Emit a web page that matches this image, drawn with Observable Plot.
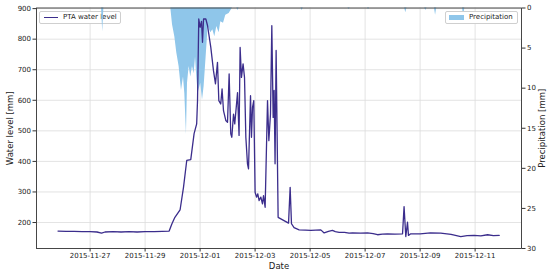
<!DOCTYPE html>
<html><head><meta charset="utf-8">
<script src="https://cdn.jsdelivr.net/npm/d3@7"></script>
<script src="https://cdn.jsdelivr.net/npm/@observablehq/plot@0.6"></script>
<style>
body{margin:0;background:#fff;font-family:"DejaVu Sans",sans-serif;}
#wrap{position:relative;width:550px;height:276px;overflow:hidden;}
#wrap>svg,#wrap>div{position:absolute;left:0;top:0;}
.leg{background:#fff;border:1px solid #cfcfcf;border-radius:2px;font-size:7px;color:#222;display:flex;align-items:center;box-sizing:border-box;height:13px;}
</style></head><body><div id="wrap"></div>
<script>
const levelTimes = ["2015-11-25T20:00","2015-11-26T03:00","2015-11-26T10:00","2015-11-26T17:00","2015-11-27T00:00","2015-11-27T06:00","2015-11-27T10:00","2015-11-27T13:00","2015-11-27T20:00","2015-11-28T03:00","2015-11-28T10:00","2015-11-28T17:00","2015-11-29T00:00","2015-11-29T08:00","2015-11-29T15:00","2015-11-29T21:00","2015-11-29T23:20","2015-11-30T02:00","2015-11-30T06:30","2015-11-30T09:30","2015-11-30T12:20","2015-11-30T15:50","2015-11-30T18:45","2015-11-30T21:00","2015-11-30T21:45","2015-11-30T22:50","2015-12-01T00:00","2015-12-01T01:15","2015-12-01T02:05","2015-12-01T03:00","2015-12-01T05:00","2015-12-01T06:30","2015-12-01T09:20","2015-12-01T11:40","2015-12-01T13:25","2015-12-01T15:10","2015-12-01T16:20","2015-12-01T18:00","2015-12-01T19:10","2015-12-01T20:25","2015-12-01T22:25","2015-12-01T23:55","2015-12-02T01:20","2015-12-02T02:45","2015-12-02T03:40","2015-12-02T05:10","2015-12-02T06:15","2015-12-02T08:40","2015-12-02T10:00","2015-12-02T10:55","2015-12-02T12:05","2015-12-02T13:30","2015-12-02T14:45","2015-12-02T15:55","2015-12-02T17:20","2015-12-02T18:15","2015-12-02T20:00","2015-12-02T20:50","2015-12-02T21:45","2015-12-02T22:50","2015-12-03T00:00","2015-12-03T01:15","2015-12-03T02:20","2015-12-03T03:30","2015-12-03T05:00","2015-12-03T06:25","2015-12-03T07:20","2015-12-03T08:45","2015-12-03T10:50","2015-12-03T12:00","2015-12-03T13:25","2015-12-03T14:35","2015-12-03T15:45","2015-12-03T16:35","2015-12-03T17:25","2015-12-03T18:20","2015-12-03T20:05","2015-12-04T05:10","2015-12-04T06:35","2015-12-04T07:45","2015-12-04T10:00","2015-12-04T14:25","2015-12-04T20:00","2015-12-05T00:35","2015-12-05T05:00","2015-12-05T09:20","2015-12-05T12:15","2015-12-05T16:00","2015-12-05T19:30","2015-12-05T22:00","2015-12-06T01:20","2015-12-06T06:00","2015-12-06T10:00","2015-12-06T13:00","2015-12-06T20:00","2015-12-07T02:05","2015-12-07T07:00","2015-12-07T10:50","2015-12-07T15:00","2015-12-07T19:30","2015-12-08T02:00","2015-12-08T08:40","2015-12-08T10:00","2015-12-08T11:30","2015-12-08T13:00","2015-12-08T13:50","2015-12-08T15:50","2015-12-09T00:00","2015-12-09T09:00","2015-12-09T18:00","2015-12-10T03:00","2015-12-10T11:30","2015-12-10T17:00","2015-12-10T23:10","2015-12-11T05:00","2015-12-11T10:50","2015-12-11T16:00","2015-12-11T21:00"];
const levelValues = [172,171,171,170,170,169,165,169,170,169,170,169,170,170,171,172,195,217,241,315,403,406,491,523,599,866,839,858,790,866,866,844,773,697,654,724,599,588,637,566,534,528,686,490,479,555,523,625,485,773,675,719,675,479,392,376,615,479,577,599,299,283,294,272,283,261,288,250,599,468,555,844,544,632,392,763,217,198,315,196,183,176,175,174,175,176,166,171,174,170,168,168,165,166,165,166,164,160,162,163,162,163,252,154,201,158,163,163,166,165,161,154,157,158,156,160,157,158];

const precipTimes = ["2015-11-27T10:00","2015-11-27T11:00","2015-11-27T12:00","2015-11-29T22:25","2015-11-29T23:55","2015-11-30T01:55","2015-11-30T03:40","2015-11-30T05:40","2015-11-30T07:45","2015-11-30T09:30","2015-11-30T10:40","2015-11-30T12:05","2015-11-30T13:00","2015-11-30T14:25","2015-11-30T15:50","2015-11-30T17:20","2015-11-30T18:45","2015-11-30T20:00","2015-11-30T21:05","2015-11-30T22:15","2015-12-01T00:35","2015-12-01T02:05","2015-12-01T03:30","2015-12-01T05:15","2015-12-01T07:00","2015-12-01T09:20","2015-12-01T11:05","2015-12-01T12:50","2015-12-01T14:35","2015-12-01T16:35","2015-12-01T18:05","2015-12-01T20:25","2015-12-01T22:25","2015-12-02T01:20","2015-12-02T04:15","2015-12-02T08:00","2015-12-02T09:00","2015-12-02T10:00","2015-12-04T16:00","2015-12-04T17:00","2015-12-04T18:00","2015-12-06T09:00","2015-12-06T10:00","2015-12-06T11:00","2015-12-07T02:00","2015-12-07T03:00","2015-12-07T04:00","2015-12-08T10:30","2015-12-08T11:30","2015-12-08T12:30","2015-12-09T04:00","2015-12-09T05:00","2015-12-09T06:00","2015-12-09T12:30","2015-12-09T13:30","2015-12-09T14:30","2015-12-10T13:00","2015-12-10T14:00","2015-12-10T15:00"];
const precipValues = [0,3.0,0,0,2.1,3.6,5.6,7.3,10.3,8.6,10.7,15.8,9.4,7.3,8.6,7.3,8.2,6.1,8.6,10.6,9.4,11.5,9.8,6.1,2.3,3.1,2.7,3.6,2.3,3.1,1.7,1.9,0.9,0.7,0,0,0.3,0,0,0.3,0,0,0.2,0,0,0.2,0,0,0.6,0,0,0.3,0,0,0.9,0,0,1.1,0];

const xTicks = ["2015-11-27","2015-11-29","2015-12-01","2015-12-03","2015-12-05","2015-12-07","2015-12-09","2015-12-11"];
const levelTicks = [200,300,400,500,600,700,800,900];
const precipTicks = [0,5,10,15,20,25,30];

const parse = s => new Date(s + (s.length > 10 ? "Z" : "T00:00Z"));
const level = levelTimes.map((t, i) => ({date: parse(t), value: levelValues[i]}));
const precip = precipTimes.map((t, i) => ({date: parse(t), value: precipValues[i]}));
const xTickDates = xTicks.map(parse);

const W = 550, H = 276, ML = 36, MR = 29, MT = 7.5, MB = 28;
const xDomain = [parse("2015-11-25T01:13"), parse("2015-12-12T16:29")];
const levelDomain = [115, 902];
const textColor = "#222";
const lineColor = "#3b2d8c";
const rainColor = "#8fc6ea";

function base(extra) {
  return Object.assign({
    width: W, height: H, marginLeft: ML, marginRight: MR, marginTop: MT, marginBottom: MB,
    style: {background: "transparent", fontFamily: "DejaVu Sans", fontSize: "7px", color: textColor, overflow: "visible"},
    x: {type: "utc", domain: xDomain, axis: null}
  }, extra);
}

const wrap = document.getElementById("wrap");

// Layer A: grid
const gridPlot = Plot.plot(base({
  y: {domain: levelDomain, axis: null},
  marks: [
    Plot.gridX(xTickDates, {stroke: "#dcdcdc", strokeOpacity: 1, strokeWidth: 0.8}),
    Plot.gridY(levelTicks, {stroke: "#dcdcdc", strokeOpacity: 1, strokeWidth: 0.8})
  ]
}));
wrap.appendChild(gridPlot);

// left legend (beneath precipitation, as in the reference)
const legL = document.createElement("div");
legL.className = "leg";
legL.style.left = "39px"; legL.style.top = "10.5px"; legL.style.width = "82px";
legL.innerHTML = `<span style="display:inline-block;width:14px;height:0;border-top:1.3px solid ${lineColor};margin:0 5px 0 4px"></span><span>PTA water level</span>`;
wrap.appendChild(legL);

// Layer B: precipitation with right axis
const rainPlot = Plot.plot(base({
  y: {domain: [0, 30], reverse: true, axis: null},
  marks: [
    Plot.areaY(precip, {x: "date", y1: 0, y2: "value", fill: rainColor, curve: "linear"}),
    Plot.axisY(precipTicks, {anchor: "right", tickSize: 3.5, tickPadding: 2, stroke: "#333", label: "Precipitation [mm]", labelAnchor: "center", labelArrow: "none", labelOffset: 23})
  ]
}));
wrap.appendChild(rainPlot);

// Layer C: water level line, left axis, x axis, frame
const linePlot = Plot.plot(base({
  y: {domain: levelDomain, axis: null},
  marks: [
    Plot.line(level, {x: "date", y: "value", stroke: lineColor, strokeWidth: 1.3, curve: "linear"}),
    Plot.axisY(levelTicks, {anchor: "left", tickSize: 3.5, tickPadding: 2, stroke: "#333", label: "Water level [mm]", labelAnchor: "center", labelArrow: "none", labelOffset: 30}),
    Plot.axisX(xTickDates, {anchor: "bottom", tickSize: 3.5, tickPadding: 1, stroke: "#333", tickFormat: d3.utcFormat("%Y-%m-%d"), label: "Date", labelAnchor: "center", labelArrow: "none", labelOffset: 20}),
    Plot.frame({stroke: "#333", strokeWidth: 0.9})
  ]
}));
wrap.appendChild(linePlot);

// right legend
const legR = document.createElement("div");
legR.className = "leg";
legR.style.left = "445px"; legR.style.top = "10.5px"; legR.style.width = "73px";
legR.innerHTML = `<span style="display:inline-block;width:15px;height:5px;background:${rainColor};margin:0 5px 0 3px"></span><span>Precipitation</span>`;
wrap.appendChild(legR);

// axis label font sizes
for (const svg of [rainPlot, linePlot]) {
  svg.querySelectorAll("[aria-label$='axis label'] text").forEach(t => t.setAttribute("font-size", "8.5"));
}
</script>
</body></html>
